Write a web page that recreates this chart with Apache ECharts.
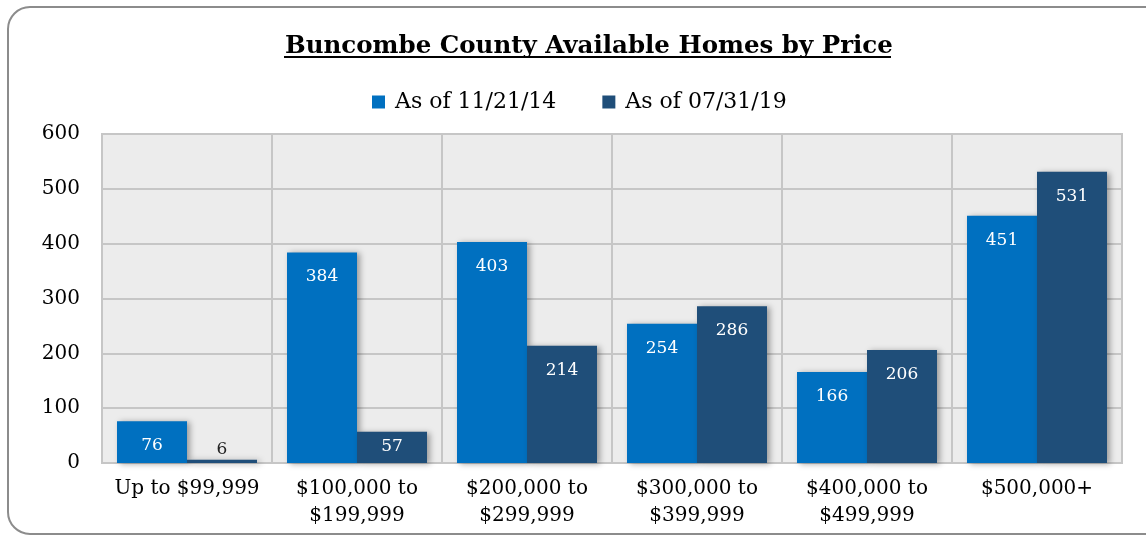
<!DOCTYPE html>
<html>
<head>
<meta charset="utf-8">
<script src="https://cdn.jsdelivr.net/npm/echarts@6/dist/echarts.min.js"></script>
<style>
  html, body { margin: 0; padding: 0; background: #fff; }
  #chart { width: 1146px; height: 537px; }
</style>
</head>
<body>
<div id="chart"></div>
<script>
const categories = ["Up to $99,999", "$100,000 to\n$199,999", "$200,000 to\n$299,999", "$300,000 to\n$399,999", "$400,000 to\n$499,999", "$500,000+"];
const homes2014 = [76, 384, 403, 254, 166, 451];
const homes2019 = [6, 57, 214, 286, 206, 531];
const yTicks = [0, 100, 200, 300, 400, 500, 600];

const serif = "'DejaVu Serif', 'Liberation Serif', serif";

// tiny bars get their label above, short ones a label closer to the top
function labelled(values) {
  return values.map((v) => {
    if (v < 20) {
      return { value: v, label: { position: "top", color: "#222", distance: 2 } };
    }
    if (v < 70) {
      return { value: v, label: { distance: 6 } };
    }
    return v;
  });
}

let myChart = echarts.init(document.getElementById("chart"));
myChart.setOption({
  animation: false,
  title: {
    text: "Buncombe County Available Homes by Price",
    left: 280,
    top: 29,
    textStyle: { fontFamily: serif, fontSize: 24.5, fontWeight: "bold", color: "#000" },
  },
  legend: {
    data: ["As of 11/21/14", "As of 07/31/19"],
    left: 367,
    top: 86,
    icon: "rect",
    itemWidth: 13,
    itemHeight: 13,
    itemGap: 46,
    itemStyle: { borderWidth: 0 },
    textStyle: { fontFamily: serif, fontSize: 22, color: "#000", padding: [0, 0, 0, 5] },
  },
  graphic: [
    {
      // rounded frame round the chart
      type: "rect",
      shape: { x: 8, y: 7, width: 1160, height: 527, r: 22 },
      style: { fill: "none", stroke: "#8c8c8c", lineWidth: 2 },
      silent: true,
    },
    {
      // title underline
      type: "line",
      shape: { x1: 284, y1: 57, x2: 891, y2: 57 },
      style: { stroke: "#000", lineWidth: 2 },
      silent: true,
    },
  ],
  grid: {
    left: 102,
    right: 24,
    top: 134,
    bottom: 74,
    show: true,
    backgroundColor: "#ececec",
    borderColor: "#c6c6c6",
    borderWidth: 2,
  },
  xAxis: {
    type: "category",
    data: categories,
    axisTick: { show: false },
    axisLine: { show: true, lineStyle: { color: "#c6c6c6", width: 2 } },
    splitLine: { show: true, interval: 0, lineStyle: { color: "#c6c6c6", width: 2 } },
    axisLabel: {
      interval: 0,
      fontFamily: serif,
      fontSize: 20,
      color: "#000",
      lineHeight: 27,
      margin: 12,
    },
  },
  yAxis: {
    type: "value",
    min: yTicks[0],
    max: yTicks[yTicks.length - 1],
    interval: 100,
    axisLine: { show: true, lineStyle: { color: "#c6c6c6", width: 2 } },
    splitLine: { lineStyle: { color: "#c6c6c6", width: 2 } },
    axisLabel: { fontFamily: serif, fontSize: 20, color: "#000", margin: 22 },
  },
  series: [
    {
      name: "As of 11/21/14",
      type: "bar",
      barWidth: 70,
      barGap: "0%",
      data: labelled(homes2014),
      itemStyle: {
        color: "#0070c0",
        shadowColor: "rgba(0,0,0,0.35)",
        shadowBlur: 6,
        shadowOffsetX: 3,
        shadowOffsetY: 1,
      },
      label: {
        show: true,
        position: "insideTop",
        distance: 16,
        color: "#fff",
        fontFamily: serif,
        fontSize: 17,
      },
    },
    {
      name: "As of 07/31/19",
      type: "bar",
      barWidth: 70,
      data: labelled(homes2019),
      itemStyle: {
        color: "#1f4e79",
        shadowColor: "rgba(0,0,0,0.35)",
        shadowBlur: 6,
        shadowOffsetX: 3,
        shadowOffsetY: 1,
      },
      label: {
        show: true,
        position: "insideTop",
        distance: 16,
        color: "#fff",
        fontFamily: serif,
        fontSize: 17,
      },
    },
  ],
});
window.addEventListener("resize", () => {
  myChart.resize();
});
</script>
</body>
</html>
